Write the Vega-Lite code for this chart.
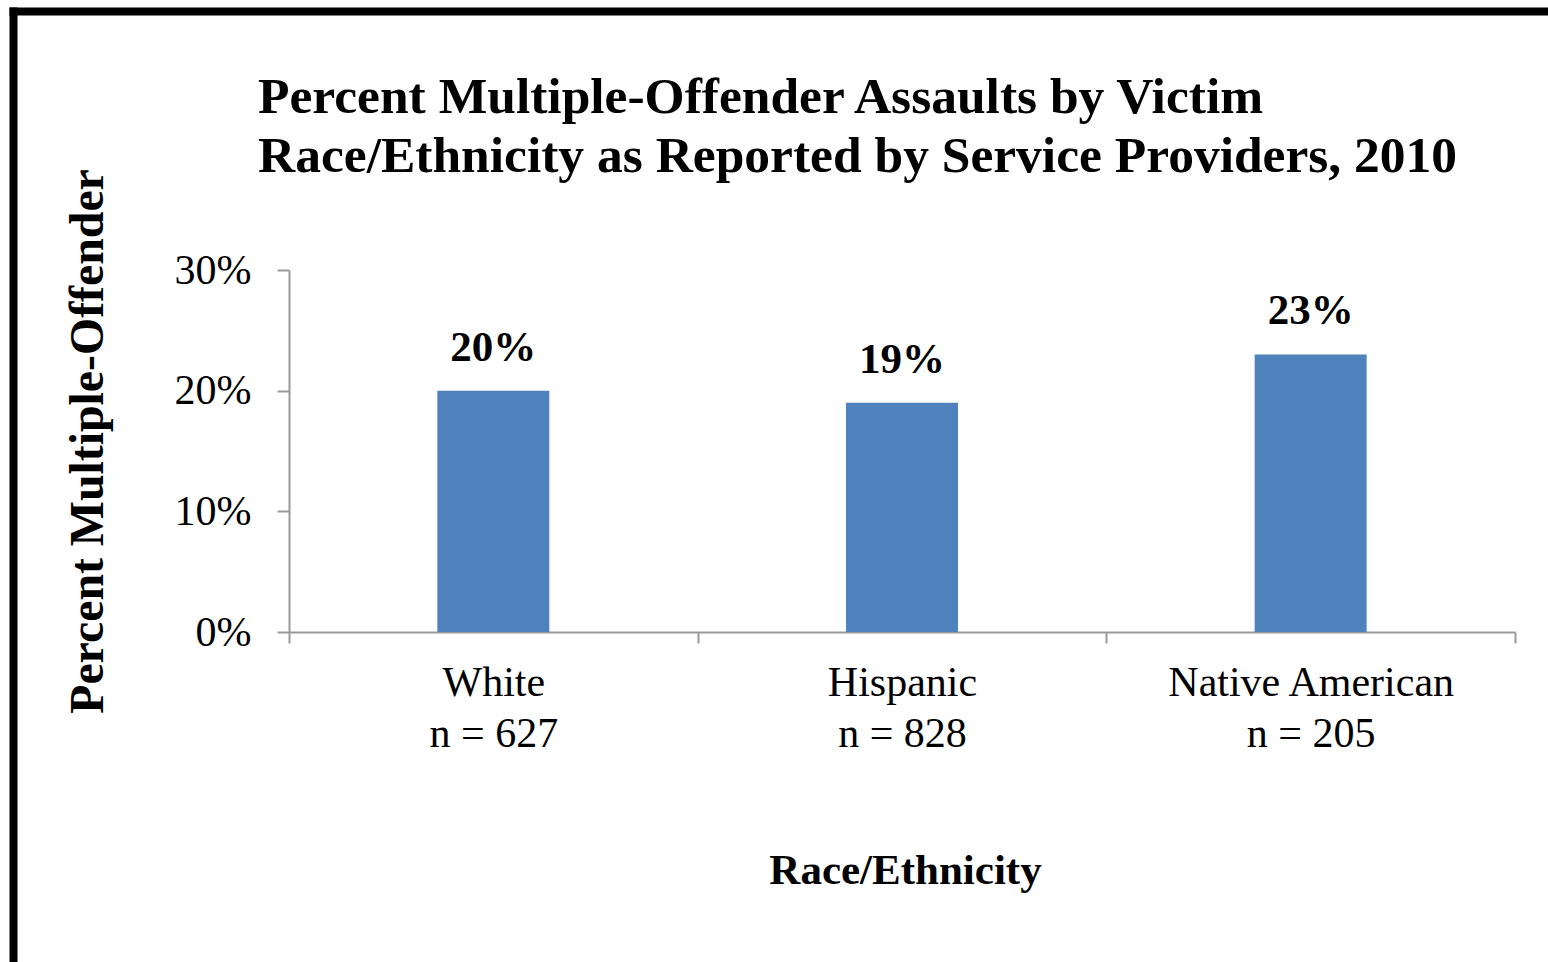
{
  "$schema": "https://vega.github.io/schema/vega-lite/v6.json",
  "width": 1548,
  "height": 962,
  "autosize": "none",
  "padding": 0,
  "background": "white",
  "config": {"view": {"stroke": null}, "font": "Liberation Serif"},
  "title": {
    "text": ["Percent Multiple-Offender Assaults by Victim", "Race/Ethnicity as Reported by Service Providers, 2010"],
    "anchor": "start",
    "frame": "group",
    "font": "Liberation Serif",
    "fontSize": 51.5,
    "fontWeight": "bold",
    "color": "black",
    "lineHeight": 59,
    "dx": 258,
    "dy": 186
  },
  "data": {
    "values": [
      {"race": "White|n = 627", "pct": 0.20},
      {"race": "Hispanic|n = 828", "pct": 0.19},
      {"race": "Native American|n = 205", "pct": 0.23}
    ]
  },
  "resolve": {
    "scale": {"x": "independent", "y": "independent"},
    "axis": {"x": "independent", "y": "independent"}
  },
  "layer": [
    {
      "mark": {"type": "point", "opacity": 0},
      "encoding": {
        "y": {
          "field": "pct",
          "type": "quantitative",
          "scale": {"domain": [0, 1], "range": [970, 7], "nice": false, "zero": false},
          "axis": {
            "orient": "left", "offset": -13, "domainColor": "black", "domainWidth": 8,
            "ticks": false, "labels": false, "grid": false, "title": null
          }
        }
      }
    },
    {
      "mark": {"type": "point", "opacity": 0},
      "encoding": {
        "x": {
          "field": "pct",
          "type": "quantitative",
          "scale": {"domain": [0, 1], "range": [9, 1560], "nice": false, "zero": false},
          "axis": {
            "orient": "top", "offset": -11, "domainColor": "black", "domainWidth": 8,
            "ticks": false, "labels": false, "grid": false, "title": null
          }
        }
      }
    },
    {
      "encoding": {
        "x": {
          "field": "race",
          "type": "nominal",
          "sort": null,
          "scale": {"range": [289, 1515], "paddingInner": 0, "paddingOuter": 0},
          "axis": {
            "orient": "bottom",
            "offset": -330,
            "labelExpr": "isValid(datum.value) ? split(datum.value, '|') : ''",
            "labelAngle": 0,
            "labelFont": "Liberation Serif",
            "labelFontSize": 42,
            "labelColor": "black",
            "labelLineHeight": 51,
            "labelPadding": 19,
            "labelLimit": 500,
            "tickBand": "extent",
            "tickSize": 11,
            "tickWidth": 2,
            "tickColor": "#9a9a9a",
            "domainColor": "#9a9a9a",
            "domainWidth": 2,
            "grid": false,
            "title": "Race/Ethnicity",
            "titleFont": "Liberation Serif",
            "titleFontSize": 43,
            "titleFontWeight": "bold",
            "titleColor": "black",
            "titleX": 905,
            "titleY": 238,
            "titleBaseline": "middle",
            "titleAlign": "center"
          }
        },
        "y": {
          "field": "pct",
          "type": "quantitative",
          "scale": {"domain": [0, 0.3], "range": [632, 270], "nice": false},
          "axis": {
            "orient": "left",
            "offset": -289,
            "values": [0, 0.1, 0.2, 0.3],
            "format": ".0%",
            "labelFont": "Liberation Serif",
            "labelFontSize": 42,
            "labelColor": "black",
            "labelPadding": 26,
            "tickSize": 12,
            "tickWidth": 2,
            "tickColor": "#9a9a9a",
            "domainColor": "#9a9a9a",
            "domainWidth": 2,
            "grid": false,
            "title": "Percent Multiple-Offender",
            "titleFont": "Liberation Serif",
            "titleFontSize": 47.8,
            "titleFontWeight": "bold",
            "titleColor": "black",
            "titleAngle": -90,
            "titleX": -201,
            "titleY": 441,
            "titleBaseline": "middle",
            "titleAlign": "center"
          }
        }
      },
      "layer": [
        {"mark": {"type": "bar", "color": "#4F81BD", "width": {"band": 0.274}}},
        {
          "mark": {"type": "text", "font": "Liberation Serif", "fontSize": 43, "fontWeight": "bold", "color": "black", "baseline": "alphabetic", "dy": -30},
          "encoding": {"text": {"field": "pct", "type": "quantitative", "format": ".0%"}}
        }
      ]
    }
  ]
}
